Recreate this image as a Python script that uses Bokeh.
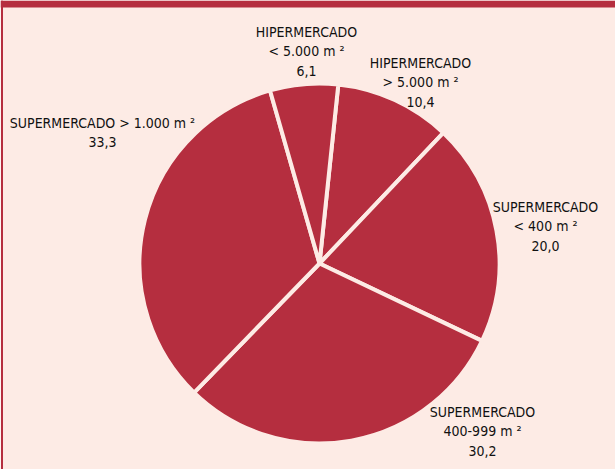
import numpy as np
from bokeh.plotting import figure
from bokeh.models import Range1d, ColumnDataSource, BoxAnnotation
from bokeh.core.properties import value
from bokeh.embed import file_html
from bokeh.resources import INLINE

# ---- data (clockwise from the top) ----
categories = ["HIPERMERCADO > 5.000 m²", "SUPERMERCADO < 400 m²",
              "SUPERMERCADO 400-999 m²", "SUPERMERCADO > 1.000 m²",
              "HIPERMERCADO < 5.000 m²"]
shares = [10.4, 20.0, 30.2, 33.3, 6.1]
value_labels = ["10,4", "20,0", "30,2", "33,3", "6,1"]
label_lines = [
    ["HIPERMERCADO", "> 5.000 m ²"],
    ["SUPERMERCADO", "< 400 m ²"],
    ["SUPERMERCADO", "400-999 m ²"],
    ["SUPERMERCADO > 1.000 m ²"],
    ["HIPERMERCADO", "< 5.000 m ²"],
]

# ---- layout / style ----
W, H = 615, 469
BG = "#fdebe5"
RED = "#b52e3f"
CX, CY, R = 319, H - 263, 180
START_DEG = 84.0          # first slice starts ~6 degrees right of vertical
FONT = "DejaVu Sans Condensed"
# label anchors (x centre, y of first line in image pixels)
label_pos = [(420, 62), (545, 206), (482, 411), (102, 122), (306, 31)]
LINE_GAP = 19.5

vals = np.array(shares, dtype=float)
frac = vals / vals.sum()
cum = np.concatenate([[0.0], np.cumsum(frac)[:-1]])
start = np.deg2rad(START_DEG) - cum * 2 * np.pi
end = start - frac * 2 * np.pi

src = ColumnDataSource(dict(cat=categories, start=start, end=end))

p = figure(width=W, height=H, x_range=Range1d(0, W), y_range=Range1d(0, H),
           output_backend="svg", toolbar_location=None, min_border=0,
           background_fill_color=BG, border_fill_color=BG)
p.axis.visible = False
p.grid.visible = False
p.outline_line_color = None

p.wedge(x=CX, y=CY, radius=R, start_angle="start", end_angle="end",
        direction="clock", source=src, fill_color=RED,
        line_color=BG, line_width=4)

# labels
tx, ty, tt = [], [], []
for (x0, y0), lines, v in zip(label_pos, label_lines, value_labels):
    for i, s in enumerate(lines + [v]):
        tx.append(x0)
        ty.append(H - (y0 + i * LINE_GAP))
        tt.append(s)
p.text(x=tx, y=ty, text=tt, text_font=value(FONT), text_font_size="14px",
       text_font_style="normal", text_align="center", text_baseline="middle",
       text_color="#111111")

# frame decorations
p.add_layout(BoxAnnotation(left=0, right=W, bottom=H - 7, top=H,
                           fill_color=RED, fill_alpha=1, line_color=None))
p.add_layout(BoxAnnotation(left=0.5, right=2.5, bottom=0, top=H,
                           fill_color=RED, fill_alpha=1, line_color=None))

open("out.html", "w").write(file_html(p, INLINE))
